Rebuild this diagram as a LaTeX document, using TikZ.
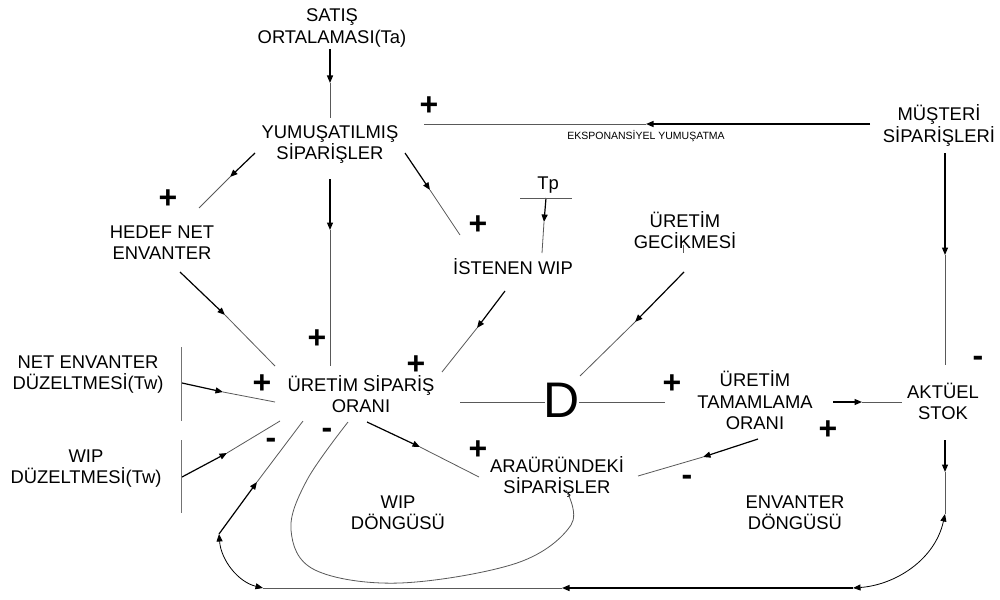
\documentclass[tikz,border=0pt]{standalone}
\usepackage{fontspec}
\setmainfont{Liberation Sans}
\usetikzlibrary{arrows.meta}
\newcommand\lblfont{\fontsize{18.4}{21.5}\selectfont}
\newcommand\smallfont{\fontsize{10.5}{12}\selectfont}
\newcommand\sgnfont{\fontsize{32}{32}\selectfont\bfseries}
\newcommand\dfont{\fontsize{50}{50}\selectfont}
\newcommand\lst{\rule[-4.5pt]{0pt}{21.5pt}}
\tikzset{
  lbl/.style={font=\lblfont, align=center, inner sep=0pt},
  one/.style={font=\lblfont, inner sep=0pt, text height=13.2pt, text depth=0pt},
  small/.style={font=\smallfont, inner sep=0pt, text height=7.5pt, text depth=0pt},
  dnode/.style={font=\dfont, inner sep=0pt, text height=35.8pt, text depth=0pt},
  plus/.style={font=\sgnfont, inner sep=0pt, text height=22.7pt, text depth=0pt},
  minus/.style={font=\sgnfont, inner sep=0pt, text height=17pt, text depth=0pt},
  thk/.style={line width=1.2pt, black},
  thn/.style={line width=0.8pt, black!65},
  bar/.style={line width=1pt, black!55},
  arc/.style={line width=0.8pt, black},
  tip/.style={-{Triangle[length=7.5pt,width=6pt]}},
  tips/.style={{Triangle[length=7.5pt,width=6pt]}-{Triangle[length=7.5pt,width=6pt]}}
}
\newcommand\link[4]{%
  \coordinate (#1-s) at #2; \coordinate (#1-m) at #3; \coordinate (#1-e) at #4;
  \draw[thk,tip] (#1-s) -- (#1-m); \draw[thn] (#1-m) -- (#1-e);}
\begin{document}
\begin{tikzpicture}[x=1pt,y=-1pt]
\useasboundingbox[fill=white] (0,0) rectangle (1000,599);

% labels
\node[lbl] (satis) at (332,26.5) {\lst SATIŞ\\\lst ORTALAMASI(Ta)};
\node[lbl] (yum) at (330,142.5) {\lst YUMUŞATILMIŞ\\\lst SİPARİŞLER};
\node[lbl] (must) at (939,125) {\lst MÜŞTERİ\\\lst SİPARİŞLERİ};
\node[lbl] (hedef) at (162,242.5) {\lst HEDEF NET\\\lst ENVANTER};
\node[one] (ist) at (513,268) {İSTENEN WIP};
\node[one] (tp) at (548,183) {Tp};
\node[lbl] (gec) at (685,231.5) {\lst ÜRETİM\\\lst GECİKMESİ};
\node[lbl] (netduz) at (88,372.5) {\lst NET ENVANTER\\\lst DÜZELTMESİ(Tw)};
\node[lbl] (wipduz) at (86,466.5) {\lst WIP\\\lst DÜZELTMESİ(Tw)};
\node[lbl] (uso) at (361,395.5) {\lst ÜRETİM SİPARİŞ\\\lst ORANI};
\node[lbl] (uto) at (755,402) {\lst ÜRETİM\\\lst TAMAMLAMA\\\lst ORANI};
\node[lbl] (stok) at (943,402.5) {\lst AKTÜEL\\\lst STOK};
\node[lbl] (arau) at (557,476.5) {\lst ARAÜRÜNDEKİ\\\lst SİPARİŞLER};
\node[lbl] (wipd) at (398,512.5) {\lst WIP\\\lst DÖNGÜSÜ};
\node[lbl] (envd) at (795,512.5) {\lst ENVANTER\\\lst DÖNGÜSÜ};
\node[small] (eks) at (646,136) {EKSPONANSİYEL YUMUŞATMA};
\node[dnode] (D) at (562,400) {D};

% signs
\node[plus] (p1) at (429,104) {+};
\node[plus] (p2) at (168,197) {+};
\node[plus] (p3) at (478,223) {+};
\node[plus] (p4) at (317,337) {+};
\node[plus] (p5) at (416,363) {+};
\node[plus] (p6) at (262,382) {+};
\node[plus] (p7) at (672,382) {+};
\node[plus] (p8) at (828,428) {+};
\node[plus] (p9) at (478,448) {+};
\node[minus] (m1) at (271,440) {-};
\node[minus] (m2) at (327,430) {-};
\node[minus] (m3) at (687,477) {-};
\node[minus] (m4) at (978,358) {-};

% connectors
\link{ta}{(330,49)}{(330,83)}{(330,118)}
\link{eks}{(870,124)}{(646,124)}{(424,124)}
\link{ms}{(945,153)}{(945,255)}{(945,365)}
\link{yh}{(255,153)}{(230,177)}{(199,208)}
\link{yu}{(330,179)}{(330,230)}{(330,366)}
\link{yi}{(405,153)}{(430,190)}{(460,235)}
\link{tpl}{(546,198)}{(544,222)}{(542,253)}
\link{hu}{(180,272)}{(225,315)}{(275,366)}
\link{iu}{(505,291)}{(477,328)}{(442,372)}
\link{gd}{(684,272)}{(635,322)}{(580,376)}
\link{nu}{(182,383)}{(223,392)}{(275,402)}
\link{wu}{(182,477)}{(227,453)}{(280,421)}
\link{bu}{(219,534)}{(257,482)}{(303,421)}
\link{ua}{(367,422)}{(420,447)}{(479,477)}
\link{tst}{(833,402)}{(862,402)}{(902,402)}
\link{tar}{(758,439)}{(703,457)}{(638,476)}
\link{sb}{(945,440)}{(945,472)}{(945,514)}
\link{bot}{(853,588)}{(562,588)}{(263,588)}

% delay lines
\coordinate (d1) at (460,402); \coordinate (d2) at (545,402);
\coordinate (d3) at (579,402); \coordinate (d4) at (665,402);
\draw[thn] (d1) -- (d2);
\draw[thn] (d3) -- (d4);

% Tp bar, tick
\coordinate (tb1) at (520,198); \coordinate (tb2) at (572,198);
\draw[thn] (tb1) -- (tb2);
\coordinate (tk1) at (683,245); \coordinate (tk2) at (683,253);
\draw[thn, line width=0.6pt] (tk1) -- (tk2);

% vertical bars
\coordinate (vb1) at (181,347); \coordinate (vb2) at (181,421);
\coordinate (vb3) at (181,440); \coordinate (vb4) at (181,513);
\draw[bar] (vb1) -- (vb2);
\draw[bar] (vb3) -- (vb4);

% arcs
\draw[arc,tips] (bu-s) .. controls (221,560) and (238,582) .. (bot-e);
\draw[arc,tips] (sb-e) .. controls (935,560) and (895,585) .. (bot-s);

% WIP loop
\draw[thn] plot[smooth,tension=0.6] coordinates {(348,422) (307,480) (291,530) (315,570) (400,583) (517,563) (571,525) (566,490)};
\end{tikzpicture}
\end{document}
